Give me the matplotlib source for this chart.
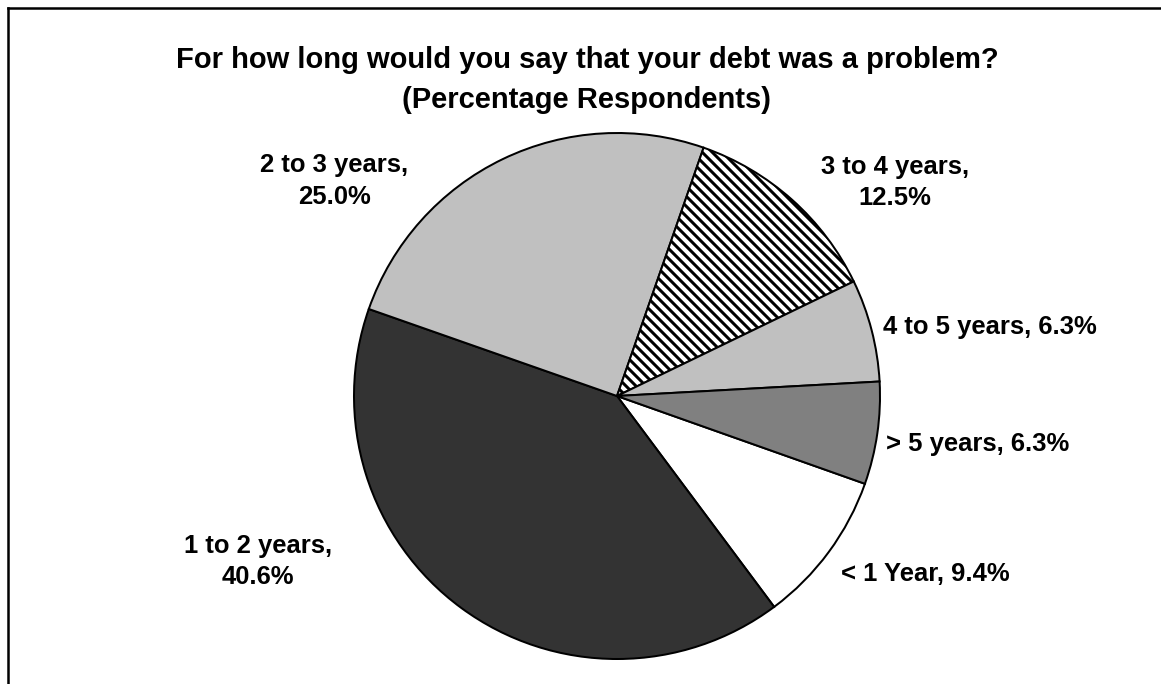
import matplotlib
matplotlib.use('Agg')
import matplotlib.pyplot as plt
from matplotlib.lines import Line2D

# Survey answers, in the order they go round the pie (clockwise)
categories = ["< 1 Year", "1 to 2 years", "2 to 3 years", "3 to 4 years", "4 to 5 years", "> 5 years"]
percentages = [9.4, 40.6, 25.0, 12.5, 6.3, 6.3]

TITLE = "For how long would you say that your debt was a problem?\n(Percentage Respondents)"

# Styles for each slice
colors = ["white", "#333333", "#c0c0c0", "white", "#c0c0c0", "#808080"]
hatches = [None, None, None, "\\\\\\\\", None, None]
two_line = [False, True, True, True, False, False]
# Label centres, in units of the pie radius
label_pos = [(1.171, -0.677), (-1.365, -0.629), (-1.076, 0.817),
             (1.057, 0.812), (1.418, 0.262), (1.373, -0.183)]

plt.rcParams['font.family'] = ['Liberation Sans', 'DejaVu Sans']
plt.rcParams['hatch.linewidth'] = 1.8

DPI = 120
fig = plt.figure(figsize=(1161 / DPI, 684 / DPI), dpi=DPI)
ax = fig.add_axes([0, 0, 1, 1])

# Pie centre at (617, 396) px, radius 263 px
cx, cy, r = 617, 396, 263

wedges, _ = ax.pie(percentages, colors=colors, startangle=-19.5, counterclock=False,
                   radius=1, center=(0, 0), frame=True,
                   wedgeprops=dict(edgecolor='black', linewidth=1.2))
ax.set_xlim(-cx / r, (1161 - cx) / r)
ax.set_ylim((cy - 684) / r, cy / r)
ax.set_aspect('auto')
ax.axis('off')

for w, h in zip(wedges, hatches):
    if h:
        w.set_hatch(h)

# Data labels
for cat, val, split, pos in zip(categories, percentages, two_line, label_pos):
    sep = ",\n" if split else ", "
    ax.text(pos[0], pos[1], f"{cat}{sep}{val:.1f}%", ha='center', va='center',
            fontsize=15.4, fontweight='bold', color='black', linespacing=1.4)

# Title
fig.text(587 / 1161, 1 - 80 / 684, TITLE, ha='center', va='center',
         fontsize=17.5, fontweight='bold', color='black', linespacing=1.5)

# Chart area border (left and top edges are visible)
bx, by = 7.5 / 1161, 1 - 7.5 / 684
fig.add_artist(Line2D([bx, bx], [0, by], color='black', linewidth=1.5, transform=fig.transFigure))
fig.add_artist(Line2D([bx, 1], [by, by], color='black', linewidth=1.5, transform=fig.transFigure))

fig.savefig("out.png", dpi=DPI)
